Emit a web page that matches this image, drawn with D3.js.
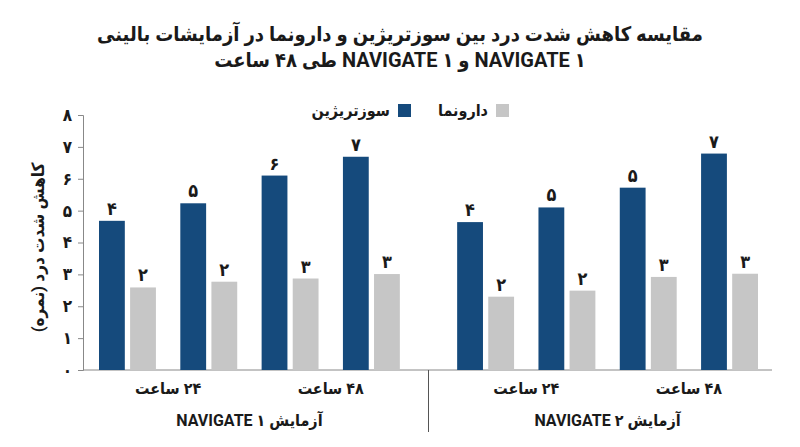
<!DOCTYPE html>
<html lang="fa">
<head>
<meta charset="UTF-8">
<title>NAVIGATE</title>
<script src="https://d3js.org/d3.v7.min.js"></script>
<style>
  body { margin: 0; background: #fff; }
  svg text { font-family: Roboto, "DejaVu Sans Condensed", "DejaVu Sans", sans-serif; font-weight: bold; fill: #1a1a1a; }
</style>
</head>
<body>
<svg width="800" height="447"></svg>
<script>
// data
const titleLines = ["مقایسه کاهش شدت درد بین سوزتریژین و دارونما در آزمایشات بالینی",
                    "NAVIGATE ۱ و NAVIGATE ۱ طی ۴۸ ساعت"];
const yTitle = "کاهش شدت درد (نمره)";
const trials = ["آزمایش NAVIGATE ۱", "آزمایش NAVIGATE ۲"];
const times = ["۲۴ ساعت", "۴۸ ساعت"];
const series = ["سوزتریژین", "دارونما"];
const colors = ["#154a7c", "#c6c6c6"];
// 8 bar pairs: trial / time / slot
const pairTrial = [0, 0, 0, 0, 1, 1, 1, 1];
const pairTime  = [0, 0, 1, 1, 0, 0, 1, 1];
const pairSlot  = [0, 1, 2, 3, 0, 1, 2, 3];
const suzValues     = [4.68, 5.23, 6.10, 6.69, 4.64, 5.10, 5.72, 6.79];
const placeboValues = [2.59, 2.77, 2.87, 3.01, 2.30, 2.49, 2.92, 3.02];
const suzLabels     = ["۴", "۵", "۶", "۷", "۴", "۵", "۵", "۷"];
const placeboLabels = ["۲", "۲", "۳", "۳", "۲", "۲", "۳", "۳"];

const fa = d => String(d).replace(/\d/g, c => "۰۱۲۳۴۵۶۷۸۹"[c]);

const svg = d3.select("svg");
const axisLeft = 83, axisRight = 772, plotTop = 115, plotBottom = 370;

const y = d3.scaleLinear().domain([0, 8]).range([plotBottom, plotTop]);
const x0 = d3.scaleBand().domain(d3.range(trials.length)).range([99, 758]).paddingInner(0.16);
const x1 = d3.scaleBand().domain(d3.range(4)).range([0, x0.bandwidth()]).paddingInner(0.30);
const x2 = d3.scaleBand().domain(d3.range(series.length)).range([0, x1.bandwidth()]).paddingInner(0.17);

// title
svg.append("g").selectAll("text")
  .data(titleLines).join("text")
  .attr("x", 400).attr("y", (d, i) => 41 + i * 26)
  .attr("text-anchor", "middle").attr("direction", "rtl")
  .style("font-size", "20px")
  .text(d => d);

// legend
const leg = svg.append("g");
const legX = [411, 509];
series.forEach((s, i) => {
  leg.append("rect").attr("x", legX[i] - 13).attr("y", 104).attr("width", 13).attr("height", 13)
    .attr("fill", colors[i]);
  leg.append("text").attr("x", legX[i] - 21).attr("y", 116)
    .attr("text-anchor", "start").attr("direction", "rtl")
    .style("font-size", "16px").text(s);
});

// y axis
const yAxis = svg.append("g").attr("transform", `translate(${axisLeft},0)`)
  .call(d3.axisLeft(y).ticks(8).tickSize(5).tickPadding(6).tickFormat(fa));
yAxis.select(".domain").attr("stroke", "#888");
yAxis.selectAll(".tick line").attr("stroke", "#888");
yAxis.selectAll(".tick text").style("font-size", "17px").attr("fill", "#1a1a1a");

svg.append("text")
  .attr("transform", `translate(44,${(plotTop + plotBottom) / 2 + 5}) rotate(-90)`)
  .attr("text-anchor", "middle").attr("direction", "rtl")
  .style("font-size", "17px").text(yTitle);

// baseline + separator
svg.append("line").attr("x1", axisLeft).attr("x2", axisRight).attr("y1", plotBottom).attr("y2", plotBottom)
  .attr("stroke", "#888");
const sepX = (x0(0) + x0.bandwidth() + x0(1)) / 2;
svg.append("line").attr("x1", sepX).attr("x2", sepX).attr("y1", plotBottom).attr("y2", 432)
  .attr("stroke", "#555");

// bars
const pairX = i => x0(pairTrial[i]) + x1(pairSlot[i]);
const bars = [];
suzValues.forEach((v, i) => bars.push({ i, s: 0, v, label: suzLabels[i] }));
placeboValues.forEach((v, i) => bars.push({ i, s: 1, v, label: placeboLabels[i] }));

svg.append("g").selectAll("rect")
  .data(bars).join("rect")
  .attr("x", d => pairX(d.i) + x2(d.s))
  .attr("y", d => y(d.v))
  .attr("width", x2.bandwidth())
  .attr("height", d => y(0) - y(d.v))
  .attr("fill", d => colors[d.s]);

svg.append("g").selectAll("text")
  .data(bars).join("text")
  .attr("x", d => pairX(d.i) + x2(d.s) + x2.bandwidth() / 2)
  .attr("y", d => y(d.v) - 6)
  .attr("text-anchor", "middle")
  .style("font-size", "18px")
  .text(d => d.label);

// time labels
const timeGroups = [];
trials.forEach((t, ti) => times.forEach((tm, k) => {
  const idx = d3.range(8).filter(i => pairTrial[i] === ti && pairTime[i] === k);
  const xa = pairX(idx[0]), xb = pairX(idx[idx.length - 1]) + x1.bandwidth();
  timeGroups.push({ label: tm, cx: (xa + xb) / 2 });
}));
svg.append("g").selectAll("text")
  .data(timeGroups).join("text")
  .attr("x", d => d.cx).attr("y", 394)
  .attr("text-anchor", "middle").attr("direction", "rtl")
  .style("font-size", "16px").text(d => d.label);

svg.append("g").selectAll("text")
  .data(trials).join("text")
  .attr("x", (d, i) => x0(i) + x0.bandwidth() / 2).attr("y", 426)
  .attr("text-anchor", "middle").attr("direction", "rtl")
  .style("font-size", "16px").text(d => d);
</script>
</body>
</html>
